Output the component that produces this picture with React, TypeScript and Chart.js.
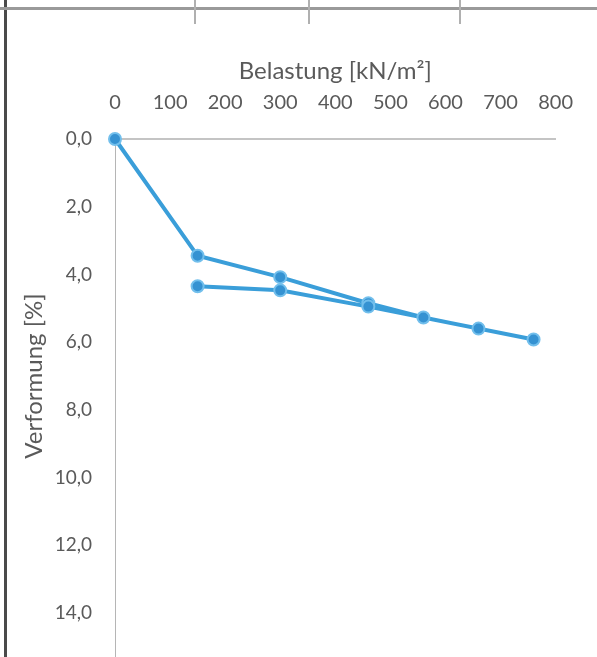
import React, { useEffect, useRef } from 'react';
import { Chart, registerables } from 'chart.js';
Chart.register(...registerables);

// Load path (0 -> 760) followed by unloading path (760 -> 150)
const loadKN = [0, 150, 300, 460, 560, 660, 760, 460, 300, 150];
const deformationPct = [0, 3.45, 4.08, 4.85, 5.27, 5.6, 5.92, 4.95, 4.47, 4.35];

const xTickValues = [0, 100, 200, 300, 400, 500, 600, 700, 800];
const xTickLabels = ['0', '100', '200', '300', '400', '500', '600', '700', '800'];
const yTickValues = [0, 2, 4, 6, 8, 10, 12, 14];
const yTickLabels = ['0,0', '2,0', '4,0', '6,0', '8,0', '10,0', '12,0', '14,0'];

const xTitle = 'Belastung [kN/m²]';
const yTitle = 'Verformung [%]';

const FONT = 'Lato, "Open Sans", sans-serif';
const TEXT = '#5a5a5a';

const labelFor = (values: number[], labels: string[]) => (v: any) => {
  const i = values.indexOf(Number(v));
  return i >= 0 ? labels[i] : '';
};

// vertical value axis line, drawn from the top of the plot down past its bottom
const axisLine = {
  id: 'axisLine',
  beforeDatasetsDraw(chart: any) {
    const { ctx, chartArea, scales } = chart;
    const x = Math.round(scales.x.getPixelForValue(0)) + 0.5;
    ctx.save();
    ctx.strokeStyle = '#b5b5b5';
    ctx.lineWidth = 1;
    ctx.beginPath();
    ctx.moveTo(x, chartArea.top);
    ctx.lineTo(x, chart.height);
    ctx.stroke();
    ctx.restore();
  },
};

export default function App() {
  const ref = useRef<HTMLCanvasElement>(null);
  useEffect(() => {
    const chart = new Chart(ref.current!, {
      type: 'scatter',
      data: {
        datasets: [
          {
            data: loadKN.map((x, i) => ({ x, y: deformationPct[i] })),
            showLine: true,
            borderColor: '#3a9ed9',
            borderWidth: 4,
            pointRadius: 6,
            pointBackgroundColor: '#3592d2',
            pointBorderColor: '#72bfec',
            pointBorderWidth: 2,
            clip: false as any,
          },
        ],
      },
      plugins: [axisLine],
      options: {
        animation: false,
        responsive: false,
        layout: { padding: { left: 0, top: 0, right: 30, bottom: 44 } },
        plugins: { legend: { display: false }, tooltip: { enabled: false } },
        scales: {
          x: {
            type: 'linear',
            position: 'top',
            min: 0,
            max: 800,
            afterFit: (s: any) => {
              s.height = 139;
            },
            ticks: {
              stepSize: 100,
              padding: 24,
              color: TEXT,
              font: { family: FONT, size: 20 },
              callback: labelFor(xTickValues, xTickLabels),
            },
            grid: { display: false, drawTicks: false },
            border: { display: true, color: '#c4c4c4', width: 2 },
            title: {
              display: true,
              text: xTitle,
              color: TEXT,
              font: { family: FONT, size: 24 },
              padding: { top: 57, bottom: 0 },
            },
          },
          y: {
            type: 'linear',
            reverse: true,
            min: 0,
            max: 14,
            afterFit: (s: any) => {
              s.width = 115;
            },
            ticks: {
              stepSize: 2,
              padding: 23,
              color: TEXT,
              font: { family: FONT, size: 19 },
              callback: labelFor(yTickValues, yTickLabels),
            },
            grid: { display: false, drawTicks: false },
            border: { display: false },
            title: {
              display: true,
              text: yTitle,
              color: TEXT,
              font: { family: FONT, size: 24 },
              padding: { top: 20, bottom: 0 },
            },
          },
        },
      },
    } as any);
    return () => chart.destroy();
  }, []);

  return (
    <div
      style={{
        position: 'fixed',
        left: 0,
        top: 0,
        width: 597,
        height: 657,
        overflow: 'hidden',
        background: '#fff',
      }}
    >
      <canvas ref={ref} width={597} height={657} style={{ display: 'block' }} />
      <div style={{ position: 'absolute', left: 4, top: 0, width: 3, height: 657, background: '#4a4a4a' }} />
      <div style={{ position: 'absolute', left: 0, top: 7, width: 597, height: 3, background: '#9a9a9a' }} />
      <div style={{ position: 'absolute', left: 194, top: 0, width: 2, height: 24, background: '#b0b0b0' }} />
      <div style={{ position: 'absolute', left: 308, top: 0, width: 2, height: 24, background: '#b0b0b0' }} />
      <div style={{ position: 'absolute', left: 459, top: 0, width: 2, height: 24, background: '#b0b0b0' }} />
    </div>
  );
}
